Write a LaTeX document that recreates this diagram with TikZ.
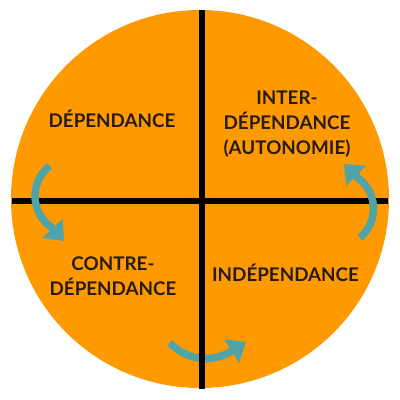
\documentclass[tikz,border=0pt]{standalone}
\usepackage{fontspec}
\setmainfont{Lato}
\usetikzlibrary{arrows.meta,calc}
\definecolor{orng}{HTML}{FF9900}
\definecolor{tealc}{HTML}{50A3A6}
\definecolor{txt}{HTML}{261C12}
\begin{document}
\begin{tikzpicture}[x=1pt,y=1pt,
  lbl/.style={font=\fontsize{18.8}{25}\selectfont\bfseries, text=txt, align=center, inner sep=0pt},
  cross/.style={line width=6pt, black},
  cyc/.style={line width=7.5pt, tealc, -{Triangle[width=27pt,length=17pt]}}]
\useasboundingbox (0,0) rectangle (400,400);
\node[circle, fill=orng, minimum size=378pt, inner sep=0pt] (disc) at (200,201) {};
% cross
\coordinate (top) at (201.5,390);
\coordinate (bot) at (201.5,11);
\coordinate (lft) at (12,198.5);
\coordinate (rgt) at (388,198.5);
% arrow 2 (below the vertical line)
\coordinate (c2) at (205.8,90.5);
\coordinate (t2) at (246,58);
\draw[cyc] ($(c2)+(223:49)$) arc[start angle=223, end angle=300, radius=49] -- (t2);
\draw[cross] (top) -- (bot);
\draw[cross] (lft) -- (rgt);
% arrows 1 and 3
\coordinate (c1) at (73,204);
\coordinate (t1) at (64,159);
\draw[cyc] ($(c1)+(127.8:38)$) arc[start angle=127.8, end angle=235, radius=38] -- (t1);
\coordinate (c3) at (335.5,191.3);
\coordinate (t3) at (344,236);
\draw[cyc] ($(c3)+(-50:38)$) arc[start angle=-50, end angle=52, radius=38] -- (t3);
% labels
\node[lbl, anchor=base] (dep) at (112,272) {DÉPENDANCE};
\node[lbl] (inter) at (287,275.5) {INTER-\\DÉPENDANCE\\(AUTONOMIE)};
\node[lbl] (contre) at (113,124) {CONTRE-\\DÉPENDANCE};
\node[lbl, anchor=base] (indep) at (285.5,118) {INDÉPENDANCE};
\end{tikzpicture}
\end{document}
